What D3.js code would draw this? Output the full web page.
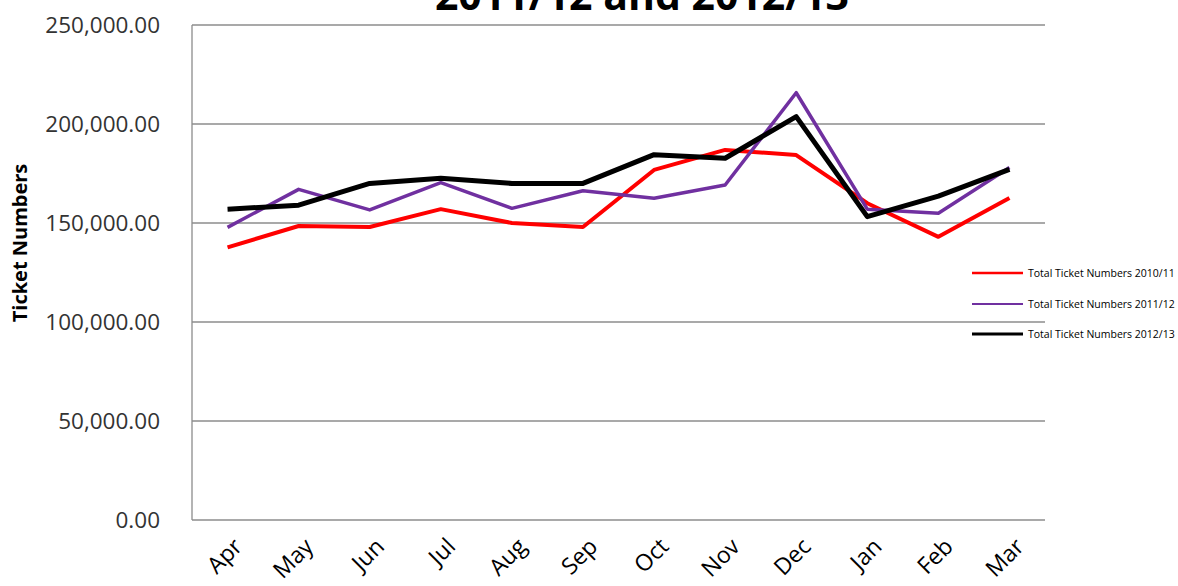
<!DOCTYPE html>
<html>
<head>
<meta charset="utf-8">
<script src="https://cdn.jsdelivr.net/npm/d3@7"></script>
<style>
  body { margin: 0; background: #fff; }
  svg { display: block; font-family: "Open Sans", sans-serif; }
</style>
</head>
<body>
<svg id="chart"></svg>
<script>
// data
const months = ['Apr', 'May', 'Jun', 'Jul', 'Aug', 'Sep', 'Oct', 'Nov', 'Dec', 'Jan', 'Feb', 'Mar'];
const tickets1011 = [137700, 148500, 148000, 157000, 150000, 148000, 176800, 186900, 184300, 160000, 143000, 162600];
const tickets1112 = [147800, 167000, 156600, 170400, 157400, 166300, 162500, 169200, 215800, 157000, 154900, 178000];
const tickets1213 = [157000, 159000, 170000, 172600, 170000, 170000, 184500, 182700, 203700, 153200, 163600, 177100];
const yTicks = [0, 50000, 100000, 150000, 200000, 250000];
const seriesNames = ['Total Ticket Numbers 2010/11', 'Total Ticket Numbers 2011/12', 'Total Ticket Numbers 2012/13'];

const series = [
  { name: seriesNames[0], values: tickets1011, color: '#ff0000', width: 4 },
  { name: seriesNames[1], values: tickets1112, color: '#7030a0', width: 3.5 },
  { name: seriesNames[2], values: tickets1213, color: '#000000', width: 5 }
];

const w = 1178, h = 586;
const pLeft = 192, pRight = 1045, pTop = 25, pBottom = 520;

const svg = d3.select('#chart').attr('width', w).attr('height', h);

const x = d3.scaleBand().domain(months).range([pLeft, pRight]);
const y = d3.scaleLinear().domain([0, 250000]).range([pBottom, pTop]);
const fmt = d3.format(',.2f');

// title, only the lower line shows inside the frame
svg.append('text')
  .attr('x', 642)
  .attr('y', 10)
  .attr('text-anchor', 'middle')
  .style('font-size', '41px')
  .style('font-weight', 'bold')
  .text('2011/12 and 2012/13');

// gridlines
svg.append('g')
  .selectAll('line')
  .data(yTicks)
  .join('line')
  .attr('x1', pLeft).attr('x2', pRight)
  .attr('y1', d => y(d)).attr('y2', d => y(d))
  .attr('stroke', '#8c8c8c')
  .attr('stroke-width', 1.3);

// left axis line
svg.append('line')
  .attr('x1', pLeft).attr('x2', pLeft)
  .attr('y1', pTop).attr('y2', pBottom)
  .attr('stroke', '#8c8c8c')
  .attr('stroke-width', 1.3);

// y labels
const yAxis = svg.append('g')
  .attr('transform', `translate(${pLeft},0)`)
  .call(d3.axisLeft(y).tickValues(yTicks).tickFormat(fmt).tickSize(0).tickPadding(32));
yAxis.select('.domain').remove();
yAxis.selectAll('text')
  .style('font-size', '22.5px')
  .style('font-family', '"Open Sans", sans-serif')
  .attr('fill', '#333');

// x labels, rotated
const xAxis = svg.append('g')
  .attr('transform', `translate(0,${pBottom})`)
  .call(d3.axisBottom(x).tickSize(0).tickPadding(0));
xAxis.select('.domain').remove();
xAxis.selectAll('text')
  .style('font-size', '23px')
  .style('font-family', '"Open Sans", sans-serif')
  .attr('fill', '#000')
  .attr('text-anchor', 'end')
  .attr('dy', 0)
  .attr('transform', 'translate(16,28) rotate(-45)');

// y title
svg.append('text')
  .attr('transform', 'translate(27,243) rotate(-90)')
  .attr('text-anchor', 'middle')
  .style('font-size', '20px')
  .style('font-weight', 'bold')
  .text('Ticket Numbers');

// lines
const line = d3.line()
  .x((d, i) => x(months[i]) + x.bandwidth() / 2)
  .y(d => y(d));

svg.append('g')
  .selectAll('path')
  .data(series)
  .join('path')
  .attr('d', d => line(d.values))
  .attr('fill', 'none')
  .attr('stroke', d => d.color)
  .attr('stroke-width', d => d.width)
  .attr('stroke-linejoin', 'round');

// legend
const legend = svg.append('g')
  .selectAll('g')
  .data(series)
  .join('g')
  .attr('transform', (d, i) => `translate(972,${[273, 304, 334][i]})`);

legend.append('line')
  .attr('x1', 0).attr('x2', 51)
  .attr('stroke', d => d.color)
  .attr('stroke-width', d => d.width * 0.6);

legend.append('text')
  .attr('x', 56)
  .attr('dy', '0.35em')
  .style('font-size', '10.5px')
  .text(d => d.name);
</script>
</body>
</html>
